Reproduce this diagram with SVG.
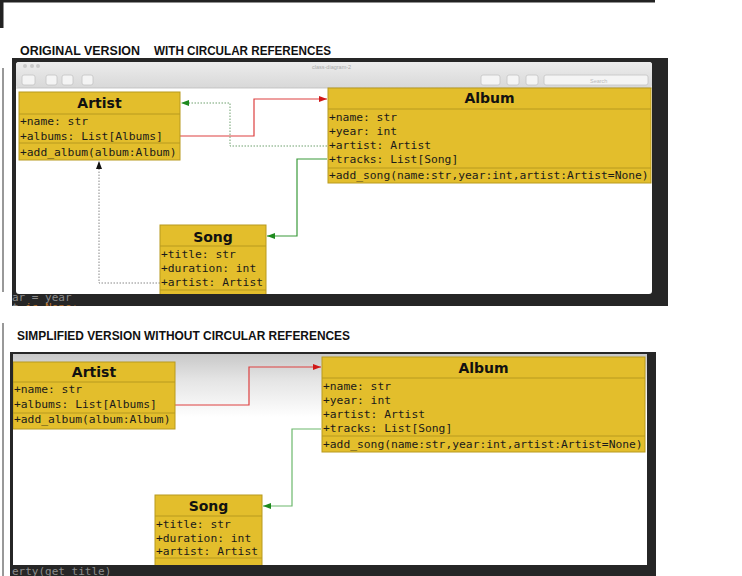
<svg xmlns="http://www.w3.org/2000/svg" width="742" height="576" viewBox="0 0 742 576">
<style>
.hdr{font-family:"Liberation Sans",Arial,sans-serif;font-weight:bold;font-size:13px;fill:#111}
.box{fill:#e3be2c;stroke:#b89a1e;stroke-width:1}
.div{stroke:#b89a1e;stroke-width:1}
.ttl{font-family:"DejaVu Sans",sans-serif;font-weight:bold;font-size:14px;fill:#111;text-anchor:middle}
.atr{font-family:"DejaVu Sans Mono",monospace;font-size:11.3px;fill:#1a1a1a}
.code{font-family:"DejaVu Sans Mono",monospace;font-size:11px;fill:#8c8c8c}
.tb{fill:#f4f4f4;stroke:#c4c4c4;stroke-width:0.8}
.red{fill:none;stroke:#dd4040;stroke-width:1.2}
.grn{fill:none;stroke:#3a9a3a;stroke-width:1.2}
.grn2{fill:none;stroke:#6cb86c;stroke-width:1.2}
.gdot{fill:none;stroke:#6fa06f;stroke-width:1;stroke-dasharray:1.5 1.5}
.kdot{fill:none;stroke:#888;stroke-width:1;stroke-dasharray:1.5 1.5}
</style>
<defs>
<marker id="ar" viewBox="0 0 8 6" refX="8" refY="3" markerWidth="8" markerHeight="6" orient="auto" markerUnits="userSpaceOnUse"><path d="M0,0 L8,3 L0,6 z" fill="#d01818"/></marker>
<marker id="ag" viewBox="0 0 8 6" refX="8" refY="3" markerWidth="8" markerHeight="6" orient="auto" markerUnits="userSpaceOnUse"><path d="M0,0 L8,3 L0,6 z" fill="#1e8a1e"/></marker>
<marker id="ak" viewBox="0 0 8 6" refX="8" refY="3" markerWidth="8" markerHeight="6" orient="auto" markerUnits="userSpaceOnUse"><path d="M0,0 L8,3 L0,6 z" fill="#111"/></marker>
<linearGradient id="tbg" x1="0" y1="0" x2="0" y2="1"><stop offset="0" stop-color="#ececec"/><stop offset="1" stop-color="#d8d8d8"/></linearGradient>
<linearGradient id="cg2" x1="0" y1="0" x2="0" y2="1"><stop offset="0" stop-color="#c8c8c8"/><stop offset="0.12" stop-color="#e4e4e4"/><stop offset="0.3" stop-color="#ffffff"/><stop offset="1" stop-color="#ffffff"/></linearGradient>
<clipPath id="c1"><rect x="16" y="62" width="636" height="232"/></clipPath>
<clipPath id="c2"><rect x="13" y="354" width="634" height="211"/></clipPath>
</defs>
<rect width="742" height="576" fill="#fff"/>
<rect x="0" y="0" width="655" height="2.5" fill="#222"/>
<rect x="0" y="0" width="3.5" height="28" fill="#222"/>
<line x1="3" y1="68" x2="3" y2="292" stroke="#333" stroke-width="1"/>
<line x1="3" y1="323" x2="3" y2="576" stroke="#333" stroke-width="1"/>

<text class="hdr" x="20" y="55" textLength="120" lengthAdjust="spacingAndGlyphs">ORIGINAL VERSION</text>
<text class="hdr" x="154" y="55" textLength="177" lengthAdjust="spacingAndGlyphs">WITH CIRCULAR REFERENCES</text>
<text class="hdr" x="17" y="340" textLength="333" lengthAdjust="spacingAndGlyphs">SIMPLIFIED VERSION WITHOUT CIRCULAR REFERENCES</text>

<!-- screenshot 1 -->
<rect x="12" y="58" width="656" height="248" fill="#262626"/>
<rect x="16" y="62" width="636" height="232" rx="3" fill="#fff"/>
<rect x="16" y="62" width="636" height="26" rx="3" fill="url(#tbg)"/>
<line x1="16" y1="88" x2="652" y2="88" stroke="#bdbdbd" stroke-width="0.8"/>
<circle cx="25" cy="66" r="2" fill="#c8c8c8"/><circle cx="32" cy="66" r="2" fill="#c8c8c8"/><circle cx="38" cy="66" r="2" fill="#c8c8c8"/>
<text x="312" y="69" font-family="Liberation Sans,sans-serif" font-size="5.5" fill="#aaa">class-diagram-2</text>
<rect class="tb" x="22" y="75" width="13" height="10" rx="2"/>
<rect class="tb" x="46" y="75" width="11" height="10" rx="2"/>
<rect class="tb" x="62" y="75" width="11" height="10" rx="2"/>
<rect class="tb" x="82" y="75" width="11" height="10" rx="2"/>
<rect class="tb" x="481" y="75" width="19" height="10" rx="2"/>
<rect class="tb" x="507" y="75" width="12" height="10" rx="2"/>
<rect class="tb" x="526" y="75" width="12" height="10" rx="2"/>
<rect class="tb" x="544" y="75" width="104" height="10" rx="2"/>
<text x="590" y="82.5" font-family="Liberation Sans,sans-serif" font-size="5.5" fill="#bbb">Search</text>
<text class="code" x="12" y="301" font-size="9">ar = year</text>
<text class="code" x="12" y="311" font-size="9">t <tspan fill="#b8742e">is None:</tspan></text>
<rect x="12" y="306" width="660" height="10" fill="#fff"/>

<g clip-path="url(#c1)">
<g id="connectors-1">
<polyline class="red" points="180,136 254,136 254,99 327,99" marker-end="url(#ar)"/>
<polyline class="gdot" points="327,146 230,146 230,103 181,103" marker-end="url(#ag)"/>
<polyline class="grn" points="327,159 297,159 297,236 267,236" marker-end="url(#ag)"/>
<polyline class="kdot" points="160,283 99,283 99,161" marker-end="url(#ak)"/>
</g>
<g id="artist-1">
<rect class="box" x="19" y="92" width="161" height="68"/>
<line class="div" x1="19" y1="114" x2="180" y2="114"/>
<line class="div" x1="19" y1="143" x2="180" y2="143"/>
<text class="ttl" x="99.5" y="107.5">Artist</text>
<text class="atr" x="20" y="125">+name: str</text>
<text class="atr" x="20" y="140">+albums: List[Albums]</text>
<text class="atr" x="20" y="156">+add_album(album:Album)</text>
</g>
<g id="album-1">
<rect class="box" x="328" y="88" width="323" height="95"/>
<line class="div" x1="328" y1="109" x2="651" y2="109"/>
<line class="div" x1="328" y1="168" x2="651" y2="168"/>
<text class="ttl" x="489.5" y="103">Album</text>
<text class="atr" x="329" y="121">+name: str</text>
<text class="atr" x="329" y="135">+year: int</text>
<text class="atr" x="329" y="148.5">+artist: Artist</text>
<text class="atr" x="329" y="162.5">+tracks: List[Song]</text>
<text class="atr" x="329" y="179">+add_song(name:str,year:int,artist:Artist=None)</text>
</g>
<g id="song-1">
<rect class="box" x="160" y="225" width="106" height="75"/>
<line class="div" x1="160" y1="246" x2="266" y2="246"/>
<line class="div" x1="160" y1="290" x2="266" y2="290"/>
<text class="ttl" x="213" y="242">Song</text>
<text class="atr" x="161" y="258">+title: str</text>
<text class="atr" x="161" y="272">+duration: int</text>
<text class="atr" x="161" y="286">+artist: Artist</text>
</g>
</g>

<!-- screenshot 2 -->
<rect x="10" y="352" width="646" height="224" fill="#262626"/>
<rect x="13" y="354" width="634" height="211" fill="url(#cg2)"/>
<text class="code" x="12" y="575" font-size="10.5">erty(get title)</text>

<g clip-path="url(#c2)">
<g id="connectors-2">
<polyline class="red" points="175,405 249,405 249,367 321,367" marker-end="url(#ar)"/>
<polyline class="grn2" points="321,429 292,429 292,506 263,506" marker-end="url(#ag)"/>
</g>
<g id="artist-2">
<rect class="box" x="13" y="362" width="162" height="67"/>
<line class="div" x1="13" y1="382" x2="175" y2="382"/>
<line class="div" x1="13" y1="413" x2="175" y2="413"/>
<text class="ttl" x="94" y="377">Artist</text>
<text class="atr" x="14" y="393">+name: str</text>
<text class="atr" x="14" y="408">+albums: List[Albums]</text>
<text class="atr" x="14" y="423">+add_album(album:Album)</text>
</g>
<g id="album-2">
<rect class="box" x="322" y="357" width="323" height="95"/>
<line class="div" x1="322" y1="378" x2="645" y2="378"/>
<line class="div" x1="322" y1="436" x2="645" y2="436"/>
<text class="ttl" x="483.5" y="373">Album</text>
<text class="atr" x="323" y="389.5">+name: str</text>
<text class="atr" x="323" y="403.5">+year: int</text>
<text class="atr" x="323" y="417.5">+artist: Artist</text>
<text class="atr" x="323" y="432">+tracks: List[Song]</text>
<text class="atr" x="323" y="448">+add_song(name:str,year:int,artist:Artist=None)</text>
</g>
<g id="song-2">
<rect class="box" x="155" y="495" width="107" height="75"/>
<line class="div" x1="155" y1="516" x2="262" y2="516"/>
<line class="div" x1="155" y1="558" x2="262" y2="558"/>
<text class="ttl" x="208.5" y="511">Song</text>
<text class="atr" x="156" y="527.5">+title: str</text>
<text class="atr" x="156" y="542">+duration: int</text>
<text class="atr" x="156" y="555">+artist: Artist</text>
</g>
</g>
</svg>
